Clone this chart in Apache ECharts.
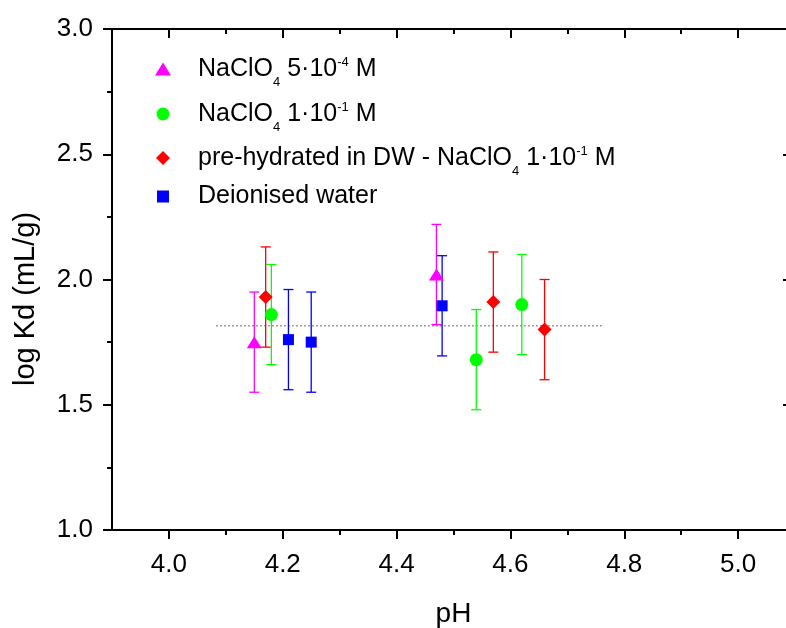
<!DOCTYPE html>
<html>
<head>
<meta charset="utf-8">
<script src="https://cdn.jsdelivr.net/npm/echarts@6/dist/echarts.min.js"></script>
<style>
  html, body { margin: 0; padding: 0; background: #fff; }
  #chart { width: 786px; height: 628px; }
</style>
</head>
<body>
<div id="chart"></div>
<script>
const FONT = "'Liberation Sans', Arial, sans-serif";

// series names (legend shows them with sub/superscripts)
const nameMag = 'NaClO4 5·10-4 M';
const nameGreen = 'NaClO4 1·10-1 M';
const nameRed = 'pre-hydrated in DW - NaClO4 1·10-1 M';
const nameBlue = 'Deionised water';

// NaClO4 5e-4 M
const magPH = [4.15, 4.47];
const magKd = [1.75, 2.02];
const magErr = [0.2, 0.2];
// NaClO4 1e-1 M
const greenPH = [4.18, 4.54, 4.62];
const greenKd = [1.86, 1.68, 1.90];
const greenErr = [0.2, 0.2, 0.2];
// pre-hydrated in DW
const redPH = [4.17, 4.57, 4.66];
const redKd = [1.93, 1.91, 1.80];
const redErr = [0.2, 0.2, 0.2];
// deionised water
const bluePH = [4.21, 4.25, 4.48];
const blueKd = [1.76, 1.75, 1.895];
const blueErr = [0.2, 0.2, 0.2];
// dotted reference line
const refPH = [4.083, 4.765];
const refKd = [1.815, 1.815];

// axis ticks
const xMajor = [4.0, 4.2, 4.4, 4.6, 4.8, 5.0];
const xMinor = [4.1, 4.3, 4.5, 4.7, 4.9];

const zip = (xs, ys) => xs.map((x, i) => [x, ys[i]]);
const zip3 = (xs, ys, es) => xs.map((x, i) => [x, ys[i], es[i]]);

function errorBar(color) {
  return function (params, api) {
    const x = api.value(0), y = api.value(1), e = api.value(2);
    const top = api.coord([x, y + e]);
    const bot = api.coord([x, y - e]);
    const half = 5;
    const style = { stroke: color, lineWidth: 1.3 };
    return {
      type: 'group',
      children: [
        { type: 'line', shape: { x1: top[0], y1: top[1], x2: bot[0], y2: bot[1] }, style },
        { type: 'line', shape: { x1: top[0] - half, y1: top[1], x2: top[0] + half, y2: top[1] }, style },
        { type: 'line', shape: { x1: bot[0] - half, y1: bot[1], x2: bot[0] + half, y2: bot[1] }, style }
      ]
    };
  };
}

const legendText = {
  [nameMag]: '{m|NaClO}{sub|4}{m| 5·10}{sup|-4}{m| M}',
  [nameGreen]: '{m|NaClO}{sub|4}{m| 1·10}{sup|-1}{m| M}',
  [nameRed]: '{m|pre-hydrated in DW - NaClO}{sub|4}{m| 1·10}{sup|-1}{m| M}',
  [nameBlue]: 'Deionised water'
};
const rich = {
  m: { fontSize: 25, lineHeight: 36, height: 36, verticalAlign: 'middle', color: '#000', fontFamily: FONT },
  sub: { fontSize: 13, lineHeight: 10, height: 9.6, verticalAlign: 'bottom', color: '#000', fontFamily: FONT },
  sup: { fontSize: 13, lineHeight: 24, height: 23.6, verticalAlign: 'top', color: '#000', fontFamily: FONT }
};

// one legend per row so each marker keeps its own size
function makeLegend(name, top, w, h, icon, lineHeight) {
  const item = { name };
  if (icon) item.icon = icon;
  return {
    data: [item],
    left: 163 - w / 2,
    top: top,
    padding: 0,
    itemWidth: w,
    itemHeight: h,
    selectedMode: false,
    formatter: n => legendText[n],
    textStyle: {
      fontSize: 25, color: '#000', fontFamily: FONT, lineHeight: lineHeight,
      padding: [0, 0, 0, 30 - w / 2], rich
    }
  };
}

const axisLine = { show: true, onZero: false, lineStyle: { color: '#000', width: 2 } };
const noLine = { show: false };

const chart = echarts.init(document.getElementById('chart'), null, { renderer: 'canvas' });
chart.setOption({
  animation: false,
  backgroundColor: '#fff',
  textStyle: { fontFamily: FONT },
  grid: { left: 112, right: -9, top: 29, bottom: 98, containLabel: false, outerBoundsMode: 'none' },
  legend: [
    makeLegend(nameMag, 51, 16, 13, 'path://M8,0L16,13L0,13Z', 36),
    makeLegend(nameGreen, 96, 13, 13, null, 36),
    makeLegend(nameRed, 140, 14, 14, null, 36),
    makeLegend(nameBlue, 184, 12, 12, null, 24)
  ],
  xAxis: [
    {
      type: 'value', position: 'bottom', min: 3.9, max: 5.1,
      axisLine,
      axisTick: { show: true, customValues: xMajor, length: 9, lineStyle: { color: '#000', width: 2 } },
      axisLabel: {
        customValues: xMajor, formatter: v => v.toFixed(1),
        fontSize: 26, color: '#000', margin: 22, fontFamily: FONT
      },
      splitLine: { show: false },
      name: 'pH', nameLocation: 'middle', nameGap: 70,
      nameTextStyle: { fontSize: 28, color: '#000', fontFamily: FONT }
    },
    {
      type: 'value', position: 'bottom', min: 3.9, max: 5.1,
      axisLine: noLine,
      axisTick: { show: true, customValues: xMinor, length: 5, lineStyle: { color: '#000', width: 2 } },
      axisLabel: { show: false }, splitLine: { show: false }
    },
    {
      type: 'value', position: 'top', min: 3.9, max: 5.1,
      axisLine,
      axisTick: { show: true, inside: true, customValues: xMajor, length: 9, lineStyle: { color: '#000', width: 2 } },
      axisLabel: { show: false }, splitLine: { show: false }
    },
    {
      type: 'value', position: 'top', min: 3.9, max: 5.1,
      axisLine: noLine,
      axisTick: { show: true, inside: true, customValues: xMinor, length: 5, lineStyle: { color: '#000', width: 2 } },
      axisLabel: { show: false }, splitLine: { show: false }
    }
  ],
  yAxis: [
    {
      type: 'value', position: 'left', min: 1, max: 3, interval: 0.5,
      axisLine,
      axisTick: { show: true, length: 9, lineStyle: { color: '#000', width: 2 } },
      minorTick: { show: true, splitNumber: 2, length: 5, lineStyle: { color: '#000', width: 2 } },
      axisLabel: { formatter: v => v.toFixed(1), fontSize: 26, color: '#000', margin: 19, fontFamily: FONT },
      splitLine: { show: false }, minorSplitLine: { show: false },
      name: 'log Kd (mL/g)', nameLocation: 'middle', nameGap: 72,
      nameTextStyle: { fontSize: 29, color: '#000', fontFamily: FONT, padding: [0, 39, 0, 0] }
    },
    {
      type: 'value', position: 'right', min: 1, max: 3, interval: 0.5,
      axisLine,
      axisTick: { show: true, inside: true, length: 12, lineStyle: { color: '#000', width: 2 } },
      minorTick: { show: true, splitNumber: 2, length: 5, lineStyle: { color: '#000', width: 2 } },
      axisLabel: { show: false },
      splitLine: { show: false }, minorSplitLine: { show: false }
    }
  ],
  series: [
    {
      name: 'ref', type: 'line', data: zip(refPH, refKd), showSymbol: false, silent: true, z: 1,
      lineStyle: { color: '#808080', width: 1.5, type: [1.5, 2.5] }
    },
    { name: 'errMag', type: 'custom', renderItem: errorBar('#ff00ff'), data: zip3(magPH, magKd, magErr), z: 2 },
    { name: 'errGreen', type: 'custom', renderItem: errorBar('#00ff00'), data: zip3(greenPH, greenKd, greenErr), z: 2 },
    { name: 'errRed', type: 'custom', renderItem: errorBar('#ff0000'), data: zip3(redPH, redKd, redErr), z: 2 },
    { name: 'errBlue', type: 'custom', renderItem: errorBar('#0000ff'), data: zip3(bluePH, blueKd, blueErr), z: 2 },
    {
      name: nameMag, type: 'scatter', data: zip(magPH, magKd), symbol: 'triangle', symbolSize: [15, 12], z: 3,
      itemStyle: { color: '#ff00ff', opacity: 1 }
    },
    {
      name: nameGreen, type: 'scatter', data: zip(greenPH, greenKd), symbol: 'circle', symbolSize: 13, z: 3,
      itemStyle: { color: '#00ff00', opacity: 1 }
    },
    {
      name: nameRed, type: 'scatter', data: zip(redPH, redKd), symbol: 'diamond', symbolSize: 14, z: 3,
      itemStyle: { color: '#ff0000', opacity: 1 }
    },
    {
      name: nameBlue, type: 'scatter', data: zip(bluePH, blueKd), symbol: 'rect', symbolSize: 11, z: 3,
      itemStyle: { color: '#0000ff', opacity: 1 }
    }
  ]
});
</script>
</body>
</html>
